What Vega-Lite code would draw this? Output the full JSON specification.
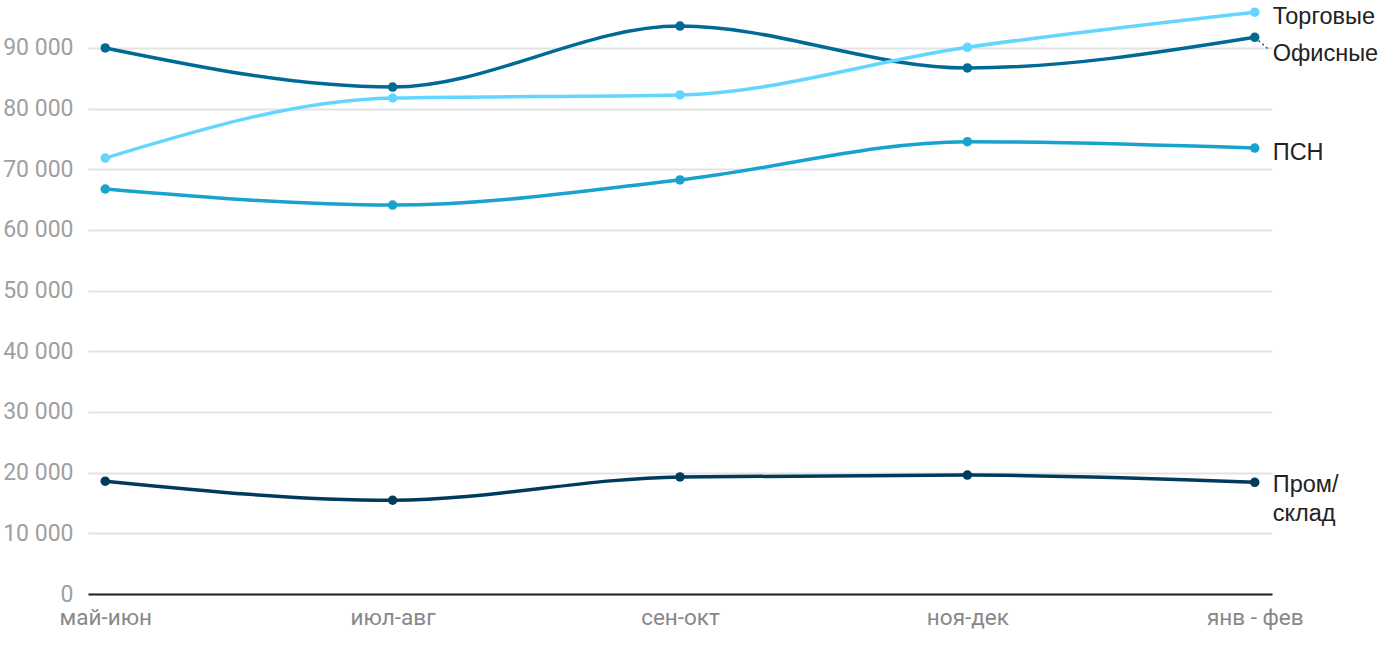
{
  "$schema": "https://vega.github.io/schema/vega-lite/v6.json",
  "width": 1184,
  "height": 594,
  "autosize": {"type": "none"},
  "padding": {"left": 88, "top": 0, "right": 128, "bottom": 56},
  "background": "white",
  "config": {
    "view": {"stroke": null},
    "locale": {"number": {"decimal": ",", "thousands": " ", "grouping": [3], "currency": ["", ""]}}
  },
  "data": {
    "values": [
      {"period": "май-июн", "series": "Офисные", "value": 90000},
      {"period": "июл-авг", "series": "Офисные", "value": 83550},
      {"period": "сен-окт", "series": "Офисные", "value": 93600},
      {"period": "ноя-дек", "series": "Офисные", "value": 86700},
      {"period": "янв - фев", "series": "Офисные", "value": 91750},
      {"period": "май-июн", "series": "Торговые", "value": 71850},
      {"period": "июл-авг", "series": "Торговые", "value": 81750},
      {"period": "сен-окт", "series": "Торговые", "value": 82250},
      {"period": "ноя-дек", "series": "Торговые", "value": 90100},
      {"period": "янв - фев", "series": "Торговые", "value": 95900},
      {"period": "май-июн", "series": "ПСН", "value": 66750},
      {"period": "июл-авг", "series": "ПСН", "value": 64100},
      {"period": "сен-окт", "series": "ПСН", "value": 68250},
      {"period": "ноя-дек", "series": "ПСН", "value": 74550},
      {"period": "янв - фев", "series": "ПСН", "value": 73500},
      {"period": "май-июн", "series": "Пром/склад", "value": 18600},
      {"period": "июл-авг", "series": "Пром/склад", "value": 15450},
      {"period": "сен-окт", "series": "Пром/склад", "value": 19300},
      {"period": "ноя-дек", "series": "Пром/склад", "value": 19600},
      {"period": "янв - фев", "series": "Пром/склад", "value": 18400}
    ]
  },
  "encoding": {
    "x": {
      "field": "period", "type": "ordinal", "sort": null,
      "scale": {"type": "point", "padding": 0.06},
      "axis": {
        "title": null, "labelAngle": 0, "labelFont": "Roboto", "labelFontSize": 22.5,
        "labelColor": "#888888", "labelPadding": 12, "ticks": false,
        "domainColor": "#222222", "domainWidth": 2, "grid": false
      }
    },
    "y": {
      "field": "value", "type": "quantitative",
      "scale": {"domain": [0, 97900], "nice": false},
      "axis": {
        "title": null, "values": [0, 10000, 20000, 30000, 40000, 50000, 60000, 70000, 80000, 90000],
        "format": ",d", "labelFont": "Roboto", "labelFontSize": 23, "labelColor": "#a0a0a0",
        "labelPadding": 15, "ticks": false, "domain": false,
        "gridColor": "#e3e3e3", "gridWidth": 2
      }
    },
    "color": {
      "field": "series", "type": "nominal", "legend": null,
      "scale": {
        "domain": ["Офисные", "Торговые", "ПСН", "Пром/склад"],
        "range": ["#006994", "#63d5ff", "#18a2ce", "#003b5c"]
      }
    }
  },
  "layer": [
    {"mark": {"type": "line", "interpolate": "monotone", "strokeWidth": 3.5}},
    {"mark": {"type": "circle", "size": 90, "opacity": 1}},
    {
      "transform": [{"filter": "datum.period == 'янв - фев' && datum.series == 'Офисные'"}],
      "mark": {"type": "rule", "strokeDash": [2, 3], "strokeWidth": 1.5, "x2Offset": 15, "y2Offset": 13},
      "encoding": {"x2": {"field": "period"}, "y2": {"field": "value"}}
    },
    {
      "transform": [{"filter": "datum.period == 'янв - фев' && (datum.series == 'Торговые' || datum.series == 'ПСН')"}],
      "mark": {"type": "text", "align": "left", "baseline": "middle", "dx": 18, "dy": 5, "font": "Liberation Sans", "fontSize": 23.5},
      "encoding": {"text": {"field": "series"}, "color": {"value": "#222222"}}
    },
    {
      "transform": [{"filter": "datum.period == 'янв - фев' && datum.series == 'Офисные'"}],
      "mark": {"type": "text", "align": "left", "baseline": "middle", "dx": 18, "dy": 17, "font": "Liberation Sans", "fontSize": 23.5},
      "encoding": {"text": {"field": "series"}, "color": {"value": "#222222"}}
    },
    {
      "transform": [{"filter": "datum.period == 'янв - фев' && datum.series == 'Пром/склад'"}],
      "mark": {"type": "text", "align": "left", "baseline": "top", "dx": 18, "dy": -9, "font": "Liberation Sans", "fontSize": 23.5, "lineHeight": 29, "text": ["Пром/", "склад"]},
      "encoding": {"color": {"value": "#222222"}}
    }
  ]
}
